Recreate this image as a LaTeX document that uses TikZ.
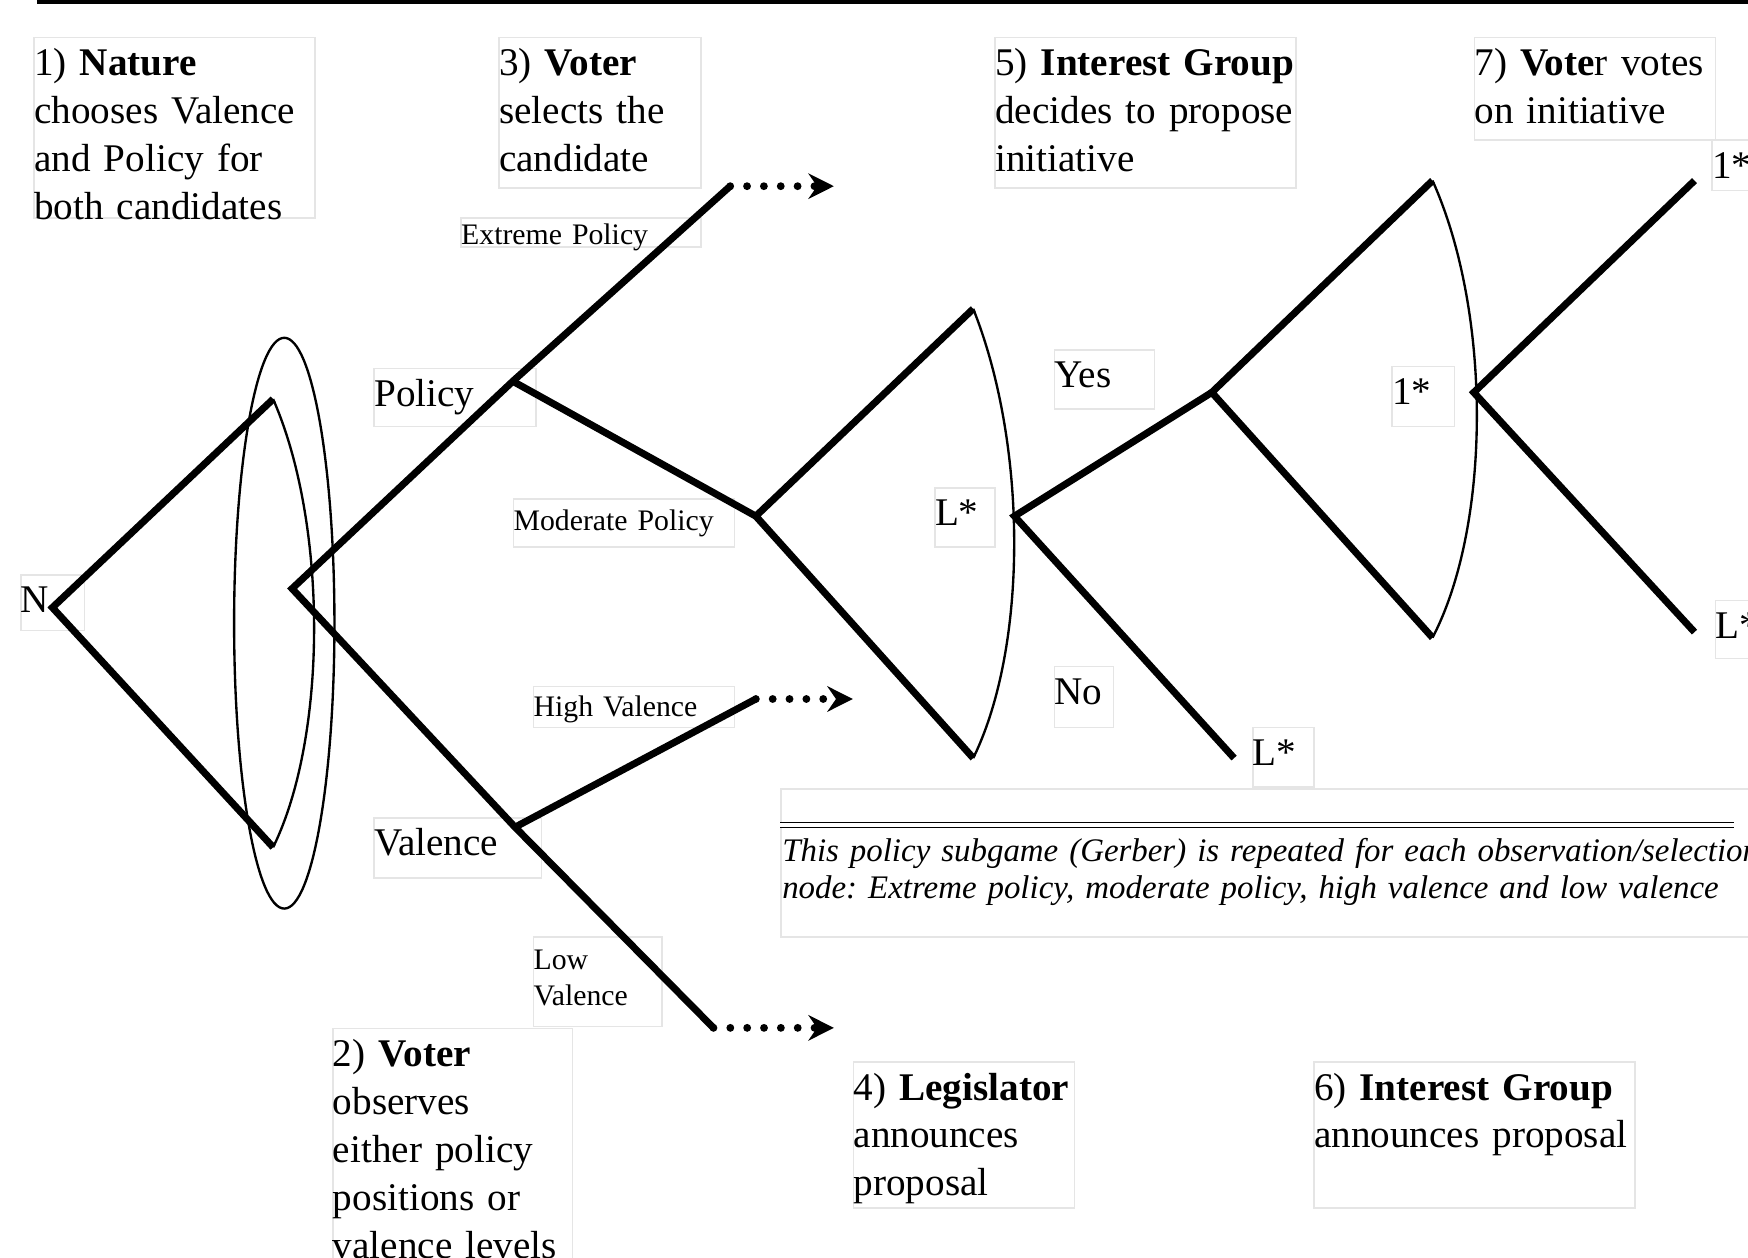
\documentclass[tikz,border=0pt]{standalone}
\usepackage{fontspec}
\setmainfont{Liberation Serif}
\frenchspacing
\usetikzlibrary{arrows.meta, shapes.geometric}
\tikzset{branch/.style={line width=1.8pt, line join=miter}}
\tikzset{infoset/.style={line width=0.6pt}}
\tikzset{more/.style={line width=2pt, dash pattern=on 0pt off 4.3pt, line cap=round,
    -{Stealth[length=6.5pt, width=6.5pt, inset=2.2pt]}}}
\tikzset{panel/.style={draw=black!10, line width=0.4pt, fill=white, anchor=north west,
    inner sep=0pt, align=left, text height=0.34cm, font=\fontsize{10}{12.24}\selectfont}}
\tikzset{tag/.style={panel, text height=0.28cm, font=\fontsize{7.6}{9.1}\selectfont}}

\begin{document}
\begin{tikzpicture}[]
  \useasboundingbox (0,0) rectangle (15.68,-11.28);
  \draw[line width=1pt] (0.33,-0.015) -- (15.68,-0.015);

  \node[draw=black!10, fill=white, anchor=north west, inner sep=0pt,
  minimum width=8.9cm, minimum height=1.33cm] (notebox) at (7.00,-7.07) {};
  \draw[double, double distance=0.8pt, line width=0.4pt]
  ([yshift=-0.33cm]notebox.north west) -- ++(8.55,0);
  \node[anchor=base west, inner sep=0pt, text width=9.5cm, align=left,
  font=\fontsize{8.4}{9.4}\selectfont\itshape] (notetext) at (7.01,-7.73)
  {This policy subgame (Gerber) is repeated for each observation/selection\\
    node: Extreme policy, moderate policy, high valence and low valence};

  \node[panel, text width=2.52cm, text depth=1.28cm] (nature) at (0.30,-0.33)
  {1) \textbf{Nature}\\chooses Valence\\and Policy for\\both candidates};
  \node[panel, text width=1.81cm, text depth=1.01cm] (selects) at (4.47,-0.33)
  {3) \textbf{Voter}\\selects the\\candidate};
  \node[panel, text width=2.70cm, text depth=1.01cm] (propose) at (8.92,-0.33)
  {5) \textbf{Interest Group}\\decides to propose\\initiative};
  \node[panel, text width=2.16cm, text depth=0.58cm] (votes) at (13.22,-0.33)
  {7) \textbf{Vote}r votes\\on initiative};
  \node[panel, text width=2.15cm, text depth=1.86cm] (observes) at (2.98,-9.22)
  {2) \textbf{Voter}\\observes\\either policy\\positions or\\valence levels};
  \node[panel, text width=1.98cm, text depth=0.97cm] (legis) at (7.65,-9.52)
  {4) \textbf{Legislator}\\announces\\proposal};
  \node[panel, text width=2.88cm, text depth=0.97cm] (announce) at (11.78,-9.52)
  {6) \textbf{Interest Group}\\announces proposal};

  \node[panel, text width=0.57cm, text depth=0.16cm] (natnode) at (0.18,-5.15) {N};
  \node[panel, text width=1.45cm, text depth=0.18cm] (policy) at (3.35,-3.30) {Policy};
  \node[panel, text width=1.50cm, text depth=0.20cm] (valence) at (3.35,-7.33) {Valence};
  \node[panel, text width=0.54cm, text depth=0.19cm] (lstar) at (8.38,-4.37) {L*};
  \node[panel, text width=0.90cm, text depth=0.19cm] (yes) at (9.45,-3.13) {Yes};
  \node[panel, text width=0.53cm, text depth=0.21cm] (no) at (9.45,-5.97) {No};
  \node[panel, text width=0.55cm, text depth=0.19cm] (botl) at (11.23,-6.52) {L*};
  \node[panel, text width=0.56cm, text depth=0.20cm] (midone) at (12.48,-3.28) {1*};
  \node[panel, text width=0.60cm, text depth=0.11cm] (topone) at (15.35,-1.25) {1*};
  \node[panel, text width=0.60cm, text depth=0.18cm] (rightl) at (15.38,-5.38) {L*};

  \node[tag, text width=2.15cm, text height=0.24cm, text depth=0.02cm] (extreme) at (4.13,-1.95) {Extreme Policy};
  \node[tag, text width=1.98cm, text depth=0.15cm] (moderate) at (4.60,-4.47) {Moderate Policy};
  \node[tag, text width=1.80cm, text height=0.27cm, text depth=0.10cm] (high) at (4.78,-6.15) {High Valence};
  \node[tag, text width=1.15cm, text height=0.29cm, text depth=0.51cm] (low) at (4.78,-8.40) {Low\\Valence};

  \coordinate (N) at (0.47,-5.45);
  \coordinate (natP) at (2.45,-3.58);
  \coordinate (natV) at (2.45,-7.60);
  \coordinate (V) at (2.62,-5.28);
  \coordinate (P) at (4.60,-3.42);
  \coordinate (Val) at (4.62,-7.42);
  \coordinate (ext) at (6.55,-1.67);
  \coordinate (extend) at (7.48,-1.67);
  \coordinate (M) at (6.78,-4.63);
  \coordinate (mtop) at (8.73,-2.77);
  \coordinate (mbot) at (8.73,-6.80);
  \coordinate (K) at (9.10,-4.63);
  \coordinate (IG) at (10.87,-3.52);
  \coordinate (kno) at (11.07,-6.80);
  \coordinate (gtop) at (12.85,-1.62);
  \coordinate (gbot) at (12.85,-5.72);
  \coordinate (W) at (13.22,-3.52);
  \coordinate (wtop) at (15.20,-1.62);
  \coordinate (wbot) at (15.20,-5.67);
  \coordinate (hv) at (6.78,-6.27);
  \coordinate (hvend) at (7.65,-6.27);
  \coordinate (lv) at (6.40,-9.22);
  \coordinate (lvend) at (7.48,-9.22);

  \node[draw, ellipse, infoset, inner sep=0pt, minimum width=0.9cm,
  minimum height=5.12cm] (observe) at (2.55,-5.59) {};
  \draw[infoset] (natP) .. controls (2.94,-4.70) and (2.94,-6.60) .. (natV);
  \draw[infoset] (mtop) .. controls (9.22,-4.00) and (9.22,-5.80) .. (mbot);
  \draw[infoset] (gtop) .. controls (13.38,-2.80) and (13.38,-4.70) .. (gbot);

  \draw[branch] (natP) -- (N) -- (natV);
  \draw[branch] (ext) -- (P) -- (V) -- (Val) -- (lv);
  \draw[branch] (P) -- (M);
  \draw[branch] (Val) -- (hv);
  \draw[branch] (mtop) -- (M) -- (mbot);
  \draw[branch] (IG) -- (K) -- (kno);
  \draw[branch] (gtop) -- (IG) -- (gbot);
  \draw[branch] (wtop) -- (W) -- (wbot);

  \draw[more] (ext) -- (extend);
  \draw[more] (hv) -- (hvend);
  \draw[more] (lv) -- (lvend);
\end{tikzpicture}
\end{document}
